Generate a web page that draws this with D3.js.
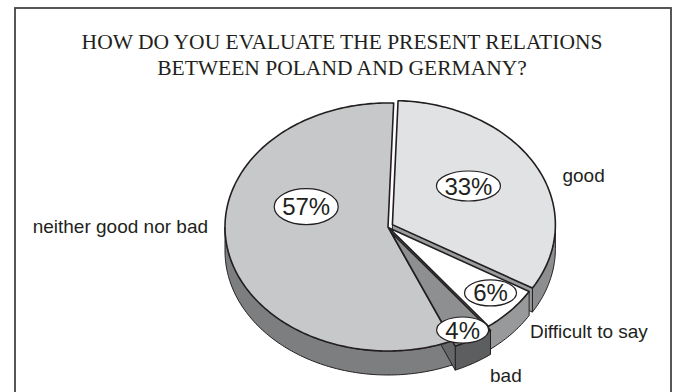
<!DOCTYPE html>
<html>
<head>
<meta charset="utf-8">
<script src="https://cdn.jsdelivr.net/npm/d3@7/dist/d3.min.js"></script>
<style>
  html, body { margin: 0; padding: 0; background: #fff; }
  svg { display: block; }
</style>
</head>
<body>
<svg id="chart" width="674" height="392"></svg>
<script>
// ---- data ----
const categories = ["good", "Difficult to say", "bad", "neither good nor bad"];
const values = [33, 6, 4, 57];
const percentLabels = ["33%", "6%", "4%", "57%"];
const titleLines = ["HOW DO YOU EVALUATE THE PRESENT RELATIONS", "BETWEEN POLAND AND GERMANY?"];

// ---- style / layout ----
const cx = 388, cy = 227, rx = 163, ry = 124, depth = 24;
const startDeg = 2;
const explode = [5, 1.5, 6, 0];
const topFill = ["#e1e2e4", "#ffffff", "#8e8f91", "#c7c8ca"];
const sideFill = ["#8d8e90", "#98999b", "#5d5e60", "#7d7e80"];
const stroke = "#231f20";
// bubble placement: fraction along slice angle, radius fraction, ellipse radii
const bubbleFrac = [0.457, 0.43, 0.59, 0.64];
const bubbleR = [0.561, 0.813, 0.903, 0.528];
const bubbleRx = [32, 26, 26, 32];
const bubbleRy = [15, 13, 13, 18];
// outer labels: angle (deg), radius fraction, anchor
const outerAng = [71.3, 135.8, 153.4, 267.5];
const outerR = [1.13, 1.249, 1.398, 1.105];
const outerAnchor = ["start", "start", "start", "end"];

const svg = d3.select("#chart");

// frame
svg.append("rect").attr("x", 15).attr("y", 8).attr("width", 656).attr("height", 400)
  .attr("fill", "none").attr("stroke", "#444").attr("stroke-width", 1.8);

// title
const title = svg.append("text").attr("text-anchor", "middle")
  .attr("font-family", "'Liberation Serif', 'Times New Roman', serif")
  .attr("font-size", 21.5).attr("fill", "#231f20");
titleLines.forEach((t, i) => title.append("tspan").attr("x", 342).attr("y", 49 + i * 26).text(t));

// pie angles
const s0 = startDeg * Math.PI / 180;
const pie = d3.pie().sort(null).startAngle(s0).endAngle(s0 + 2 * Math.PI);
const arcs = pie(values);

const proj = (a, r = 1) => [cx + rx * r * Math.sin(a), cy - ry * r * Math.cos(a)];
const offsetOf = (d, i) => {
  const m = (d.startAngle + d.endAngle) / 2;
  return [explode[i] * Math.sin(m), -explode[i] * Math.cos(m)];
};
const line = d3.line();
const arcPts = (a0, a1) => {
  const n = Math.max(2, Math.ceil(Math.abs(a1 - a0) / (Math.PI / 180)));
  return d3.range(n + 1).map(k => proj(a0 + (a1 - a0) * k / n));
};

const g = svg.append("g");
const walls = g.append("g"), tops = g.append("g");

// painter order for walls: back to front
const wallOrder = [3, 0, 1, 2];
wallOrder.forEach(i => {
  const d = arcs[i];
  const [ox, oy] = offsetOf(d, i);
  const wg = walls.append("g").attr("transform", `translate(${ox},${oy})`);
  const lo = Math.max(d.startAngle, Math.PI / 2), hi = Math.min(d.endAngle, 3 * Math.PI / 2);
  if (hi > lo) {
    const topP = arcPts(lo, hi);
    const botP = topP.map(p => [p[0], p[1] + depth]).reverse();
    wg.append("path").attr("d", line(topP.concat(botP)) + "Z")
      .attr("fill", sideFill[i]).attr("stroke", stroke).attr("stroke-width", 1).attr("stroke-linejoin", "round");
  }
  const e = d.endAngle % (2 * Math.PI);
  if (Math.sin(e) > 0.01 && explode[i] > 0) {
    const P = proj(d.endAngle);
    const pts = [[cx, cy], P, [P[0], P[1] + depth], [cx, cy + depth]];
    wg.append("path").attr("d", line(pts) + "Z")
      .attr("fill", d3.color(sideFill[i]).brighter(0.25)).attr("stroke", stroke).attr("stroke-width", 1).attr("stroke-linejoin", "round");
  }
});

// tops
[3, 0, 1, 2].forEach(i => {
  const d = arcs[i];
  const [ox, oy] = offsetOf(d, i);
  const pts = [[cx, cy]].concat(arcPts(d.startAngle, d.endAngle));
  tops.append("path").attr("transform", `translate(${ox},${oy})`)
    .attr("d", line(pts) + "Z")
    .attr("fill", topFill[i]).attr("stroke", stroke).attr("stroke-width", 1.6).attr("stroke-linejoin", "round");
});

// percentage bubbles
const bub = g.append("g");
arcs.forEach((d, i) => {
  const [ox, oy] = offsetOf(d, i);
  const a = d.startAngle + bubbleFrac[i] * (d.endAngle - d.startAngle);
  const [bx, by] = proj(a, bubbleR[i]);
  bub.append("ellipse").attr("cx", bx + ox).attr("cy", by + oy)
    .attr("rx", bubbleRx[i]).attr("ry", bubbleRy[i])
    .attr("fill", "#fff").attr("stroke", stroke).attr("stroke-width", 1.2);
  bub.append("text").attr("x", bx + ox).attr("y", by + oy + 8.5)
    .attr("text-anchor", "middle")
    .attr("font-family", "'Liberation Sans', Arial, sans-serif").attr("font-size", 24)
    .attr("fill", "#231f20").text(percentLabels[i]);
});

// outer category labels
arcs.forEach((d, i) => {
  const a = outerAng[i] * Math.PI / 180;
  const [lx, ly] = proj(a, outerR[i]);
  g.append("text").attr("x", lx).attr("y", ly)
    .attr("text-anchor", outerAnchor[i])
    .attr("font-family", "'Liberation Sans', Arial, sans-serif").attr("font-size", 19)
    .attr("fill", "#231f20").text(categories[i]);
});
</script>
</body>
</html>
